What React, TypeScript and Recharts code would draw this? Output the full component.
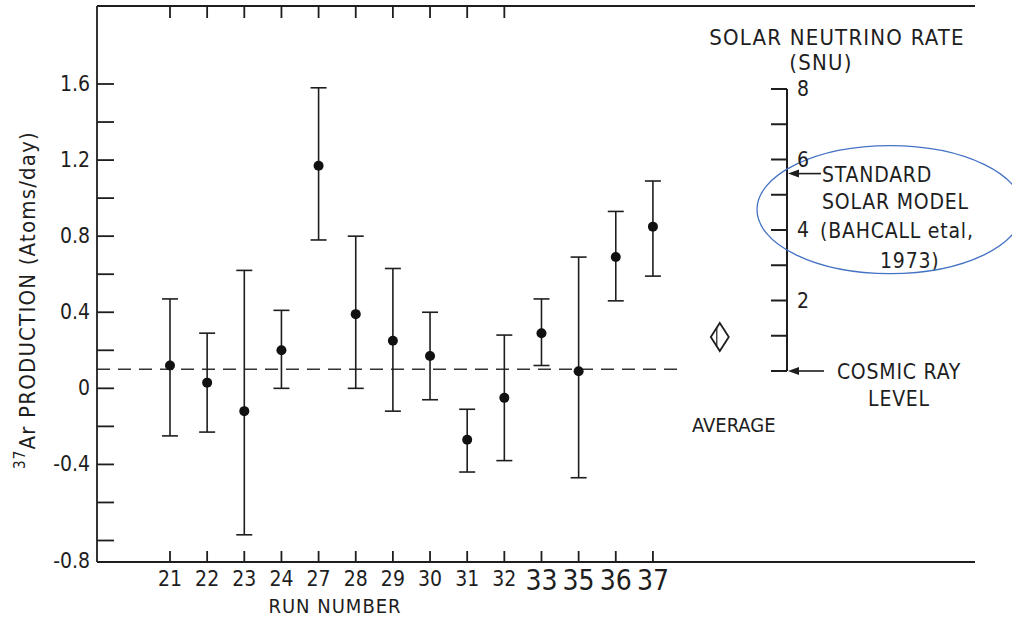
import React from 'react';
import { ComposedChart, Scatter, XAxis, YAxis, ErrorBar, ReferenceLine } from 'recharts';

// Argon-37 production rate per run (atoms/day) with the ends of each error bar
const runs = ['21', '22', '23', '24', '27', '28', '29', '30', '31', '32', '33', '35', '36', '37'];
const rate = [0.12, 0.03, -0.12, 0.2, 1.17, 0.39, 0.25, 0.17, -0.27, -0.05, 0.29, 0.09, 0.69, 0.85];
const rateLow = [-0.25, -0.23, -0.77, 0.0, 0.78, 0.0, -0.12, -0.06, -0.44, -0.38, 0.12, -0.47, 0.46, 0.59];
const rateHigh = [0.47, 0.29, 0.62, 0.41, 1.58, 0.8, 0.63, 0.4, -0.11, 0.28, 0.47, 0.69, 0.93, 1.09];
// later runs were lettered in a bigger hand on the axis
const lateRuns = ['33', '35', '36', '37'];
// the top frame carries ticks for runs 21..32 only
const topTickCount = 10;

const rateTicks = [-0.8, -0.6, -0.4, -0.2, 0, 0.2, 0.4, 0.6, 0.8, 1.0, 1.2, 1.4, 1.6];
const rateLabels = [-0.8, -0.4, 0, 0.4, 0.8, 1.2, 1.6];
const rateDomain = [-0.913, 2.01];
const runDomain = [-1.965, 21.67];

const cosmicRayLevel = 0.1;
const cosmicLineEnd = 13.7;
const average = [{ idx: 14.8, rate: 0.27 }];

// solar neutrino scale (SNU) drawn beside the average
const snuTicks = [0, 1, 2, 3, 4, 5, 6, 7, 8];
const snuLabels = [2, 4, 6, 8];
const snuMarks = [
  { x: 0, snu: 5.6, lines: ['STANDARD', 'SOLAR MODEL', '(BAHCALL etal,', '1973)'] },
  { x: 0, snu: 0, lines: ['COSMIC RAY', 'LEVEL'] },
];

const points = runs.map((run, i) => ({
  idx: i,
  run,
  rate: rate[i],
  err: [rate[i] - rateLow[i], rateHigh[i] - rate[i]],
}));

const FONT = "'DejaVu Sans Condensed', 'Liberation Sans Narrow', 'DejaVu Sans', sans-serif";
const INK = '#1e1e1e';

const RateTick = (props: any) => {
  const { x, y, payload } = props;
  const v = payload.value;
  if (!rateLabels.some((l) => Math.abs(l - v) < 1e-6)) return <g />;
  const text = Math.abs(v) < 1e-6 ? '0' : v.toFixed(1);
  const dy = v < -0.7 ? 20 : 0;
  return (
    <text x={x} y={y + dy + 7} textAnchor="end" fontFamily={FONT} fontSize={21} fill={INK}>
      {text}
    </text>
  );
};

const RunTick = (props: any) => {
  const { x, y, payload } = props;
  const label = runs[payload.value];
  const big = lateRuns.includes(label);
  return (
    <text x={x} y={y + (big ? 20 : 16)} textAnchor="middle" fontFamily={FONT} fontSize={big ? 28 : 21} fill={INK}>
      {label}
    </text>
  );
};

const EmptyTick = () => <g />;

const SnuTick = (props: any) => {
  const { x, y, payload } = props;
  if (!snuLabels.includes(payload.value)) return <g />;
  return (
    <text x={x + 26} y={y + 7} textAnchor="start" fontFamily={FONT} fontSize={21} fill={INK}>
      {payload.value}
    </text>
  );
};

const Dot = (props: any) => <circle cx={props.cx} cy={props.cy} r={5} fill="#111" />;

const AverageMark = (props: any) => {
  const { cx, cy } = props;
  return (
    <g>
      <polygon
        points={`${cx},${cy - 14} ${cx + 9},${cy} ${cx},${cy + 14} ${cx - 9},${cy}`}
        fill="none"
        stroke={INK}
        strokeWidth={1.8}
      />
      <line x1={cx - 3} y1={cy - 9} x2={cx - 3} y2={cy + 9} stroke={INK} strokeWidth={1.2} />
      <text x={cx + 14} y={cy + 95} textAnchor="middle" fontFamily={FONT} fontSize={20} fill={INK}>
        AVERAGE
      </text>
    </g>
  );
};

const SnuArrow = (props: any) => {
  const { cx, cy, payload } = props;
  const standard = payload.snu > 0;
  const len = standard ? 34 : 37;
  return (
    <g>
      <line x1={cx + 6} y1={cy} x2={cx + len} y2={cy} stroke={INK} strokeWidth={1.6} />
      <polygon points={`${cx + 1},${cy} ${cx + 12},${cy - 4} ${cx + 12},${cy + 4}`} fill={INK} />
      {standard ? (
        <g fontFamily={FONT} fontSize={21} fill={INK} letterSpacing={0.8}>
          <text x={cx + 35} y={cy + 8}>{payload.lines[0]}</text>
          <text x={cx + 35} y={cy + 35}>{payload.lines[1]}</text>
          <text x={cx + 33} y={cy + 64}>{payload.lines[2]}</text>
          <text x={cx + 93} y={cy + 94}>{payload.lines[3]}</text>
          <ellipse cx={cx + 103} cy={cy + 36} rx={133} ry={64} fill="none" stroke="#4472c4" strokeWidth={1.3} />
        </g>
      ) : (
        <g fontFamily={FONT} fontSize={21} fill={INK} letterSpacing={0.8} textAnchor="middle">
          <text x={cx + 112} y={cy + 8}>{payload.lines[0]}</text>
          <text x={cx + 112} y={cy + 35}>{payload.lines[1]}</text>
        </g>
      )}
    </g>
  );
};

const RateAxisLabel = (props: any) => {
  const { viewBox } = props;
  const x = viewBox.x + 10;
  const y = 300;
  return (
    <text
      x={x}
      y={y}
      transform={`rotate(-90 ${x} ${y})`}
      textAnchor="middle"
      dominantBaseline="central"
      fontFamily={FONT}
      fontSize={22}
      letterSpacing={1.2}
      fill={INK}
    >
      <tspan fontSize={15} dy={-7}>37</tspan>
      <tspan dy={7}>Ar PRODUCTION (Atoms/day)</tspan>
    </text>
  );
};

const RunAxisLabel = (props: any) => {
  const { viewBox } = props;
  return (
    <text x={335} y={viewBox.y + 51} textAnchor="middle" fontFamily={FONT} fontSize={20} letterSpacing={1} fill={INK}>
      RUN NUMBER
    </text>
  );
};

const SnuAxisTitle = (props: any) => {
  const { viewBox } = props;
  const x = viewBox.x + viewBox.width + 60;
  return (
    <g fontFamily={FONT} fontSize={22} fill={INK} letterSpacing={1.2} textAnchor="middle">
      <text x={x - 10} y={45}>SOLAR NEUTRINO RATE</text>
      <text x={x - 26} y={70}>(SNU)</text>
    </g>
  );
};

export default function App() {
  return (
    <div style={{ position: 'absolute', left: 0, top: 0, width: 1012, height: 623, background: '#fff' }}>
      <div style={{ position: 'absolute', left: 0, top: 0 }}>
        <ComposedChart width={1012} height={623} data={points} margin={{ top: 5, right: 37, bottom: 11, left: 17 }}>
          <XAxis
            dataKey="idx"
            type="number"
            domain={runDomain}
            ticks={runs.map((_, i) => i)}
            tick={RunTick}
            tickSize={-11}
            tickMargin={19}
            height={50}
            stroke={INK}
            strokeWidth={1.8}
            allowDataOverflow
            label={RunAxisLabel}
          />
          <XAxis
            xAxisId="top"
            orientation="top"
            dataKey="idx"
            type="number"
            domain={runDomain}
            ticks={runs.slice(0, topTickCount).map((_, i) => i)}
            tick={EmptyTick}
            tickSize={-12}
            tickMargin={0}
            height={1}
            stroke={INK}
            strokeWidth={1.8}
            allowDataOverflow
          />
          <YAxis
            dataKey="rate"
            type="number"
            domain={rateDomain}
            ticks={rateTicks}
            tick={RateTick}
            tickSize={-17}
            tickMargin={24}
            width={80}
            stroke={INK}
            strokeWidth={1.8}
            allowDataOverflow
            label={RateAxisLabel}
          />
          <YAxis
            yAxisId="right"
            orientation="right"
            dataKey="rate"
            type="number"
            domain={rateDomain}
            tick={false}
            tickLine={false}
            width={0}
            stroke={INK}
            strokeWidth={1.6}
            allowDataOverflow
          />
          <ReferenceLine
            segment={[
              { x: runDomain[0], y: cosmicRayLevel },
              { x: cosmicLineEnd, y: cosmicRayLevel },
            ]}
            stroke="#333"
            strokeWidth={1.6}
            strokeDasharray="13 8"
          />
          <Scatter dataKey="rate" shape={Dot} isAnimationActive={false}>
            <ErrorBar dataKey="err" direction="y" width={8} stroke={INK} strokeWidth={1.6} />
          </Scatter>
          <Scatter
            data={average}
            dataKey="rate"
            xAxisId="top"
            yAxisId="right"
            shape={AverageMark}
            isAnimationActive={false}
          />
        </ComposedChart>
      </div>
      <div style={{ position: 'absolute', left: 0, top: 0 }}>
        <ComposedChart width={1012} height={623} data={snuMarks} margin={{ top: 89, right: 37, bottom: 252, left: 757 }}>
          <XAxis dataKey="x" type="number" domain={[0, 1]} hide />
          <YAxis
            dataKey="snu"
            type="number"
            domain={[0, 8]}
            ticks={snuTicks}
            tick={SnuTick}
            tickSize={16}
            tickMargin={0}
            width={30}
            stroke={INK}
            strokeWidth={2}
            label={SnuAxisTitle}
          />
          <Scatter dataKey="snu" shape={SnuArrow} isAnimationActive={false} />
        </ComposedChart>
      </div>
    </div>
  );
}
